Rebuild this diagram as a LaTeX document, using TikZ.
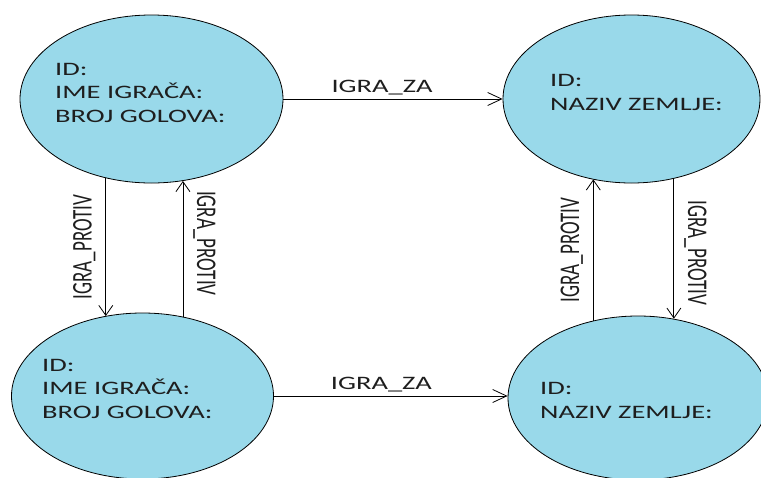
\documentclass[tikz,border=0pt]{standalone}
\usepackage{fontspec}
\setmainfont{Carlito}
\newfontfamily\widefont{Carlito}[FakeStretch=1.5]
\usepackage{graphicx}
\usepackage{tikz}
\usetikzlibrary{arrows.meta, shapes.geometric}
\definecolor{erBlue}{RGB}{153, 217, 234}
\definecolor{erText}{RGB}{30, 30, 30}
\newcommand{\tall}[1]{\scalebox{1}[1.5]{#1}}
\tikzset{
    entity/.style={
        ellipse,
        draw=black,
        line width=0.8pt,
        fill=erBlue,
        inner sep=0pt
    },
    fields/.style={
        font=\widefont\fontsize{19}{23.5}\selectfont,
        text=erText,
        align=left,
        inner sep=0pt,
        anchor=base west
    },
    rel/.style={
        -{Straight Barb[length=10pt, width=14pt]},
        line width=0.8pt
    },
    hrel/.style={
        rel,
        -{Straight Barb[length=14pt, width=13pt]}
    },
    lbl/.style={
        font=\widefont\fontsize{19}{23.5}\selectfont,
        text=erText,
        inner sep=4pt
    },
    vlbl/.style={
        font=\fontsize{19}{23.5}\selectfont,
        text=erText,
        inner xsep=0pt,
        inner ysep=10pt,
        anchor=south
    }
}

\begin{document}
\begin{tikzpicture}[x=1pt, y=-1pt]
  \useasboundingbox (0,0) rectangle (761,477);

  % Entities
  \node[entity, minimum width=263pt, minimum height=168pt] (igrac1) at (151.5,99) {};
  \node[entity, minimum width=257pt, minimum height=168pt] (zemlja1) at (631.5,99) {};
  \node[entity, minimum width=262pt, minimum height=166pt] (igrac2) at (142.5,396) {};
  \node[entity, minimum width=260pt, minimum height=164pt] (zemlja2) at (638,398) {};

  % Fields (anchored on the last line)
  \node[fields] (igrac1txt) at (55,122) {ID:\\IME IGRAČA:\\BROJ GOLOVA:};
  \node[fields] (zemlja1txt) at (550,110) {ID:\\NAZIV ZEMLJE:};
  \node[fields] (igrac2txt) at (42,418) {ID:\\IME IGRAČA:\\BROJ GOLOVA:};
  \node[fields] (zemlja2txt) at (540,418) {ID:\\NAZIV ZEMLJE:};

  % IGRA_ZA
  \draw[hrel] (igrac1.east) -- node[lbl, above, pos=.45] (za1) {IGRA\_ZA} (igrac1.east -| zemlja1.west);
  \draw[hrel] (igrac2.east) -- node[lbl, above, pos=.46] (za2) {IGRA\_ZA} (igrac2.east -| zemlja2.west);

  % IGRA_PROTIV
  \draw[rel] (igrac1.240) -- node[vlbl, rotate=90] (protiv1) {\tall{IGRA\_PROTIV}} (igrac1.240 |- igrac2.115);
  \draw[rel] (igrac2.63) -- node[vlbl, rotate=-90, pos=.54] (protiv2) {\tall{IGRA\_PROTIV}} (igrac2.63 |- igrac1.291);
  \draw[rel] (zemlja2.120) -- node[vlbl, rotate=90] (protiv3) {\tall{IGRA\_PROTIV}} (zemlja2.120 |- zemlja1.244);
  \draw[rel] (zemlja1.298) -- node[vlbl, rotate=-90, pos=.53] (protiv4) {\tall{IGRA\_PROTIV}} (zemlja1.298 |- zemlja2.66);
\end{tikzpicture}
\end{document}
